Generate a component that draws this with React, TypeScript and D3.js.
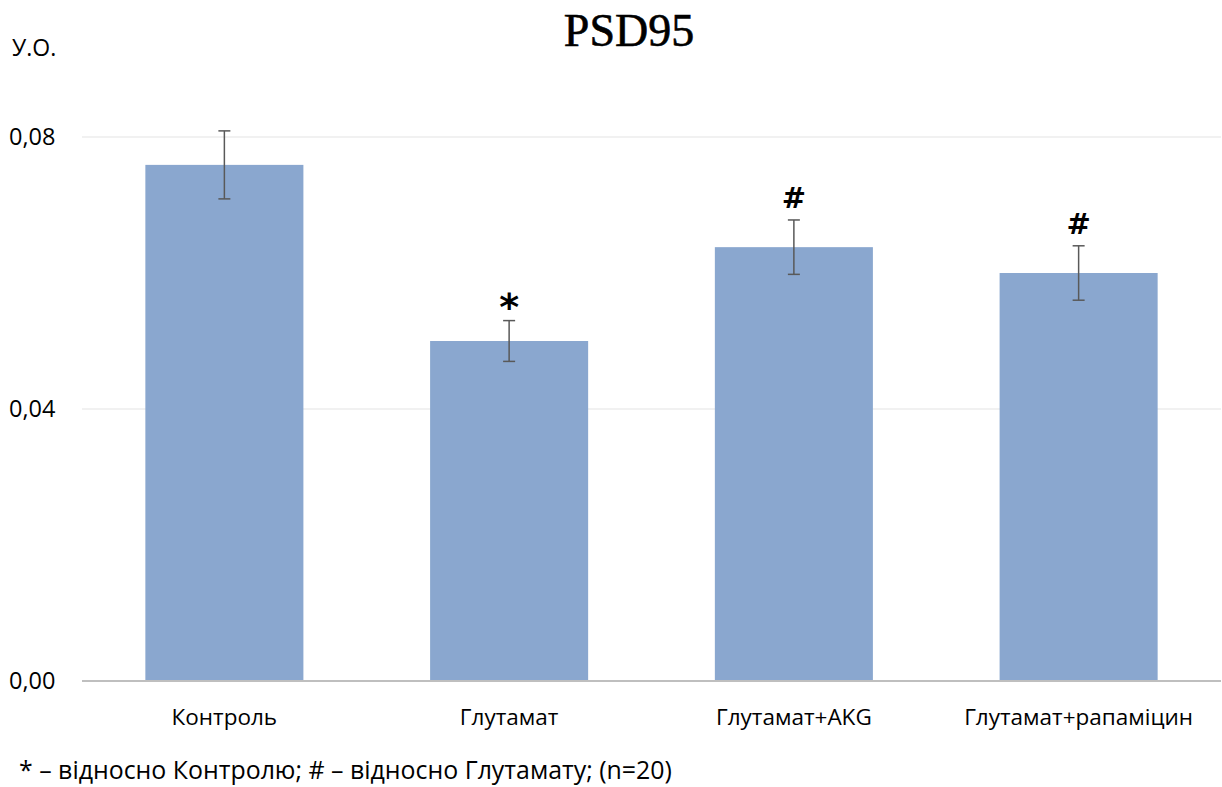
import * as d3 from "d3";

const categories = ["Контроль", "Глутамат", "Глутамат+AKG", "Глутамат+рапаміцин"];
const means = [0.0759, 0.05, 0.0638, 0.06];
const errors = [0.005, 0.003, 0.004, 0.004];
const marks = ["", "*", "#", "#"];
const yTicks = [0, 0.04, 0.08];

const W = 1222;
const H = 787;
const margin = { top: 137, right: 1, bottom: 106, left: 82 };

export default function App() {
  const x = d3.scaleBand<string>()
    .domain(categories)
    .range([margin.left, W - margin.right])
    .paddingInner(0.445)
    .paddingOuter(0.2225);

  const y = d3.scaleLinear()
    .domain([0, 0.08])
    .range([H - margin.bottom, margin.top]);

  const fmt = (v: number) => d3.format(".2f")(v).replace(".", ",");
  const font = "'Open Sans', 'Noto Sans', sans-serif";

  return (
    <svg width={W} height={H} style={{ position: "absolute", left: 0, top: 0, background: "#fff" }}>
      <text x={W / 2 + 18} y={46} textAnchor="middle" fontFamily="'Liberation Serif', serif" fontSize={46} fill="#000" stroke="#000" strokeWidth={0.6}>
        PSD95
      </text>
      <text x={12} y={56} fontFamily={font} fontSize={23} fill="#000">У.О.</text>

      {yTicks.map(t => (
        <g key={t}>
          {t > 0 && (
            <line x1={margin.left} x2={W - margin.right} y1={y(t)} y2={y(t)} stroke="#ececec" strokeWidth={1.5} />
          )}
          <text x={9} y={y(t) + 8} fontFamily={font} fontSize={23.5} fill="#000">{fmt(t)}</text>
        </g>
      ))}

      {categories.map((c, i) => {
        const bx = x(c)!;
        const cx = bx + x.bandwidth() / 2;
        const top = y(means[i] + errors[i]);
        const bot = y(means[i] - errors[i]);
        return (
          <g key={c}>
            <rect x={bx} y={y(means[i])} width={x.bandwidth()} height={y(0) - y(means[i])} fill="#8aa7cf" />
            <line x1={cx} x2={cx} y1={top} y2={bot} stroke="#595959" strokeWidth={1.5} />
            <line x1={cx - 6} x2={cx + 6} y1={top} y2={top} stroke="#595959" strokeWidth={1.5} />
            <line x1={cx - 6} x2={cx + 6} y1={bot} y2={bot} stroke="#595959" strokeWidth={1.5} />
            {marks[i] && (
              <text x={cx} y={top + (marks[i] === "*" ? -1 : -12)} textAnchor="middle" fontFamily="'DejaVu Sans', sans-serif" fontWeight="bold"
                fontSize={marks[i] === "*" ? 38 : 29} fill="#000">
                {marks[i]}
              </text>
            )}
            <text x={cx} y={y(0) + 44} textAnchor="middle" fontFamily={font} fontSize={22.5} fill="#000">{c}</text>
          </g>
        );
      })}

      <line x1={margin.left} x2={W - margin.right} y1={y(0)} y2={y(0)} stroke="#bfbfbf" strokeWidth={2} />

      <text x={19} y={779} fontFamily={font} fontSize={24.9} fill="#000">
        * – відносно Контролю; # – відносно Глутамату; (n=20)
      </text>
    </svg>
  );
}
